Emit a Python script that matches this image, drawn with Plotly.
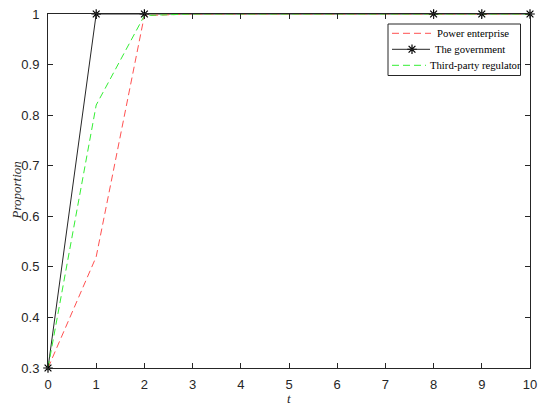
import plotly.graph_objects as go

t = [0, 1, 2, 3, 4, 5, 6, 7, 8, 9, 10]
power = [0.3, 0.52, 0.997, 1, 1, 1, 1, 1, 1, 1, 1]
gov = [0.3, 1, 1, 1, 1, 1, 1, 1, 1, 1, 1]
third = [0.3, 0.82, 0.997, 1, 1, 1, 1, 1, 1, 1, 1]
gov_marker_idx = [0, 1, 2, 8, 9, 10]
x_ticks = list(range(0, 11))
y_ticks = [0.3, 0.4, 0.5, 0.6, 0.7, 0.8, 0.9, 1.0]
y_ticklabels = ["0.3", "0.4", "0.5", "0.6", "0.7", "0.8", "0.9", "1"]
series_names = ["Power enterprise", "The government", "Third-party regulator"]
x_title = "t"
y_title = "Proportion"

RED = "#ff5050"
GREEN = "#33ee33"
BLACK = "#262626"
DASH = "7px,4px"

OFF = 8  # page body margin
W, H = 550, 411
# plot area in page pixels: x 48..530, y 14..368
L = 48 - OFF
T = 14 - OFF
PW = 530 - 48
PH = 368 - 14
R = W - L - PW
B = H - T - PH

def px(x):  # page px -> paper fraction
    return (x - OFF - L) / PW

def py(y):
    return (T + PH - (y - OFF)) / PH

marker_style = dict(symbol="asterisk-open", size=8, color="#000000", line=dict(color="#000000", width=1.2))

fig = go.Figure()
fig.add_trace(go.Scatter(x=t, y=gov, mode="lines", line=dict(color=BLACK, width=1),
                         showlegend=False, hoverinfo="skip"))
fig.add_trace(go.Scatter(x=t, y=power, mode="lines", showlegend=False,
                         line=dict(color=RED, width=1, dash=DASH)))
fig.add_trace(go.Scatter(x=t, y=third, mode="lines", showlegend=False,
                         line=dict(color=GREEN, width=1, dash=DASH)))
fig.add_trace(go.Scatter(x=[t[i] for i in gov_marker_idx], y=[gov[i] for i in gov_marker_idx],
                         mode="markers", showlegend=False, cliponaxis=False, marker=marker_style))

# manual legend (overlay axes in paper-like units)
fig.add_trace(go.Scatter(x=[px(412)], y=[py(49.3)], xaxis="x2", yaxis="y2", mode="markers",
                         showlegend=False, hoverinfo="skip", cliponaxis=False, marker=marker_style))

legend_y = [33.3, 49.3, 65.3]
legend_text_x = [435, 433, 428]
legend_line_end = [431, 430, 426]
legend_lines = [dict(color=RED, width=1, dash=DASH), dict(color=BLACK, width=1),
                dict(color=GREEN, width=1, dash=DASH)]

shapes = [
    dict(type="rect", xref="paper", yref="paper", x0=px(388), x1=px(520.5), y0=py(75.5), y1=py(24),
         line=dict(color=BLACK, width=1), layer="above"),
]
annotations = []
for name, yy, tx, le, ls in zip(series_names, legend_y, legend_text_x, legend_line_end, legend_lines):
    shapes.append(dict(type="line", xref="paper", yref="paper", x0=px(392), x1=px(le), y0=py(yy), y1=py(yy),
                       line=ls, layer="above"))
    annotations.append(dict(text=name, xref="paper", yref="paper", x=px(tx), y=py(yy),
                            xanchor="left", yanchor="middle", showarrow=False,
                            font=dict(family="Liberation Serif, serif", size=10.7, color="#000000")))

title_font = dict(family="Liberation Serif, serif", size=13, color=BLACK)
annotations.append(dict(text="<i>" + y_title + "</i>", xref="paper", yref="paper", x=px(15.5), y=py(191),
                        xanchor="center", yanchor="middle", textangle=-90, showarrow=False, font=title_font))
annotations.append(dict(text="<i>" + x_title + "</i>", xref="paper", yref="paper", x=px(289), y=py(399),
                        xanchor="center", yanchor="middle", showarrow=False, font=title_font))

axis_common = dict(showline=True, mirror="ticks", linecolor=BLACK, linewidth=1,
                   ticks="inside", ticklen=5, tickcolor=BLACK, showgrid=False, zeroline=False,
                   automargin=False, ticklabeloverflow="allow",
                   tickfont=dict(family="Liberation Sans, Arial, sans-serif", size=13, color=BLACK))

fig.update_xaxes(range=[0, 10], tickvals=x_ticks, ticklabelstandoff=4, **axis_common)
fig.update_yaxes(range=[0.3, 1.0], tickvals=y_ticks, ticktext=y_ticklabels, ticklabelstandoff=5, **axis_common)

fig.update_layout(
    width=W, height=H,
    margin=dict(l=L, r=R, t=T, b=B),
    plot_bgcolor="white", paper_bgcolor="white",
    showlegend=False,
    xaxis2=dict(overlaying="x", range=[0, 1], visible=False, automargin=False),
    yaxis2=dict(overlaying="y", range=[0, 1], visible=False, automargin=False),
    shapes=shapes,
    annotations=annotations,
)

fig.write_html("out.html")
